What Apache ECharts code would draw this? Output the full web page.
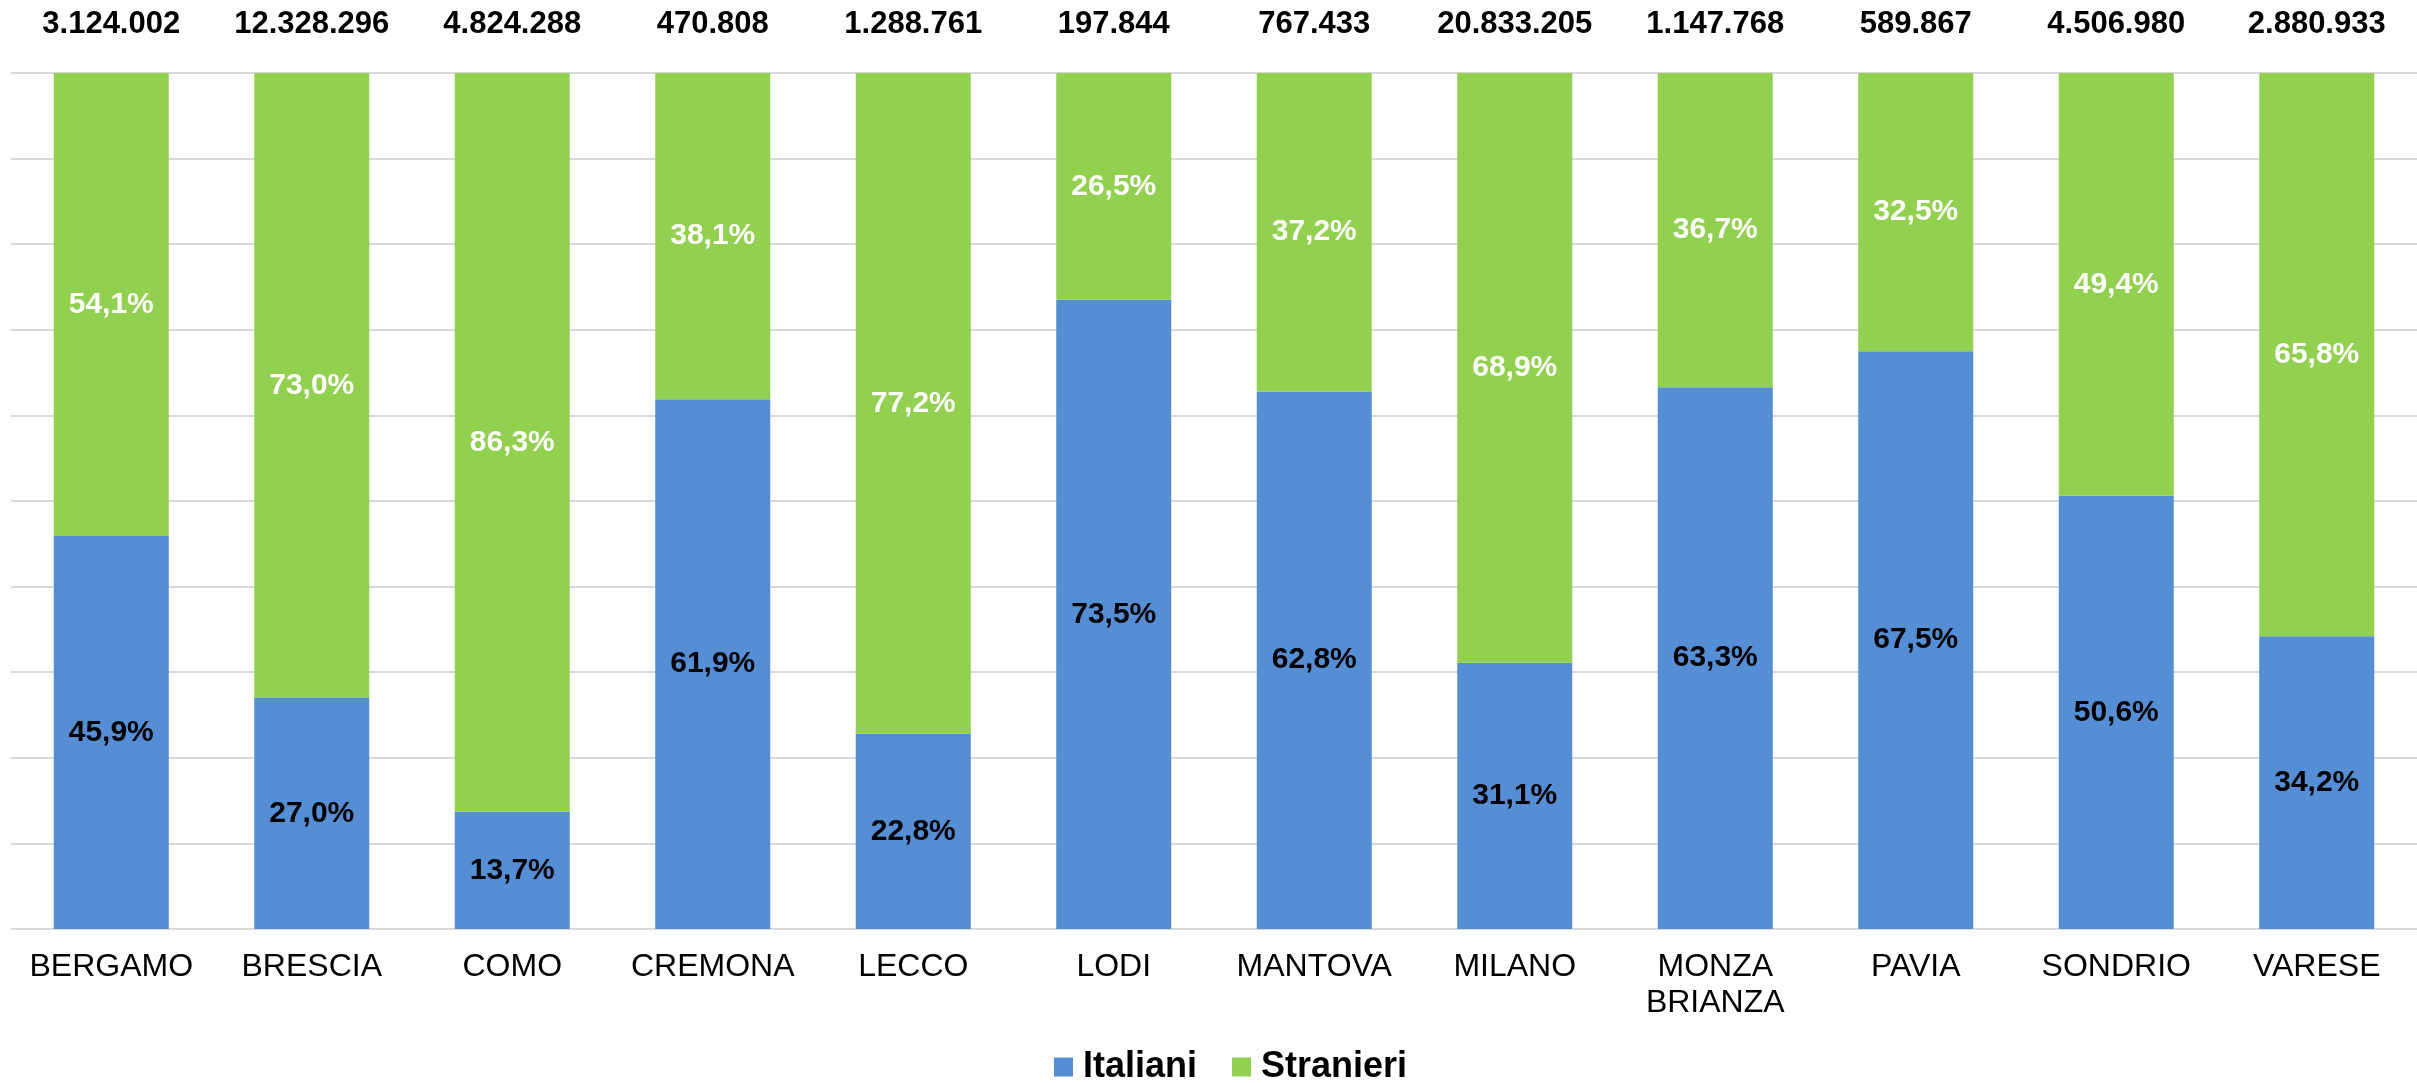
<!DOCTYPE html>
<html>
<head>
<meta charset="utf-8">
<script src="https://cdn.jsdelivr.net/npm/echarts@6/dist/echarts.min.js"></script>
<style>
  html, body { margin: 0; padding: 0; background: #fff; }
  #chart { width: 2417px; height: 1083px; }
</style>
</head>
<body>
<div id="chart"></div>
<script>
const province = ["BERGAMO", "BRESCIA", "COMO", "CREMONA", "LECCO", "LODI",
  "MANTOVA", "MILANO", "MONZA\nBRIANZA", "PAVIA", "SONDRIO", "VARESE"];
const totali = ["3.124.002", "12.328.296", "4.824.288", "470.808", "1.288.761", "197.844",
  "767.433", "20.833.205", "1.147.768", "589.867", "4.506.980", "2.880.933"];
const italiani = [45.9, 27.0, 13.7, 61.9, 22.8, 73.5, 62.8, 31.1, 63.3, 67.5, 50.6, 34.2];
const stranieri = [54.1, 73.0, 86.3, 38.1, 77.2, 26.5, 37.2, 68.9, 36.7, 32.5, 49.4, 65.8];

const FONT = "'Liberation Sans', Arial, sans-serif";
const GRID_COLOR = "#D9D9D9";

function pct(v) {
  return v.toFixed(1).replace(".", ",") + "%";
}

const chart = echarts.init(document.getElementById("chart"));

chart.setOption({
  animation: false,
  textStyle: { fontFamily: FONT },
  grid: { left: 11, top: 73, width: 2423, height: 856, containLabel: false },
  legend: {
    left: 1049,
    top: 1044,
    itemWidth: 19,
    itemHeight: 19,
    itemGap: 35,
    icon: "rect",
    textStyle: {
      fontFamily: FONT,
      fontSize: 36,
      fontWeight: "bold",
      color: "#000",
      padding: [0, 0, 0, 5],
    },
    data: ["Italiani", "Stranieri"],
  },
  xAxis: [
    {
      type: "category",
      data: province,
      axisLine: { lineStyle: { color: GRID_COLOR, width: 2 } },
      axisTick: { length: 10, lineStyle: { color: GRID_COLOR, width: 2 } },
      axisLabel: {
        color: "#000",
        fontSize: 32,
        fontFamily: FONT,
        lineHeight: 36,
        margin: 20,
        interval: 0,
      },
    },
    {
      type: "category",
      position: "top",
      data: totali,
      axisLine: { show: false },
      axisTick: { show: false },
      axisLabel: {
        color: "#000",
        fontSize: 31,
        fontWeight: "bold",
        fontFamily: FONT,
        lineHeight: 36,
        margin: 31,
        interval: 0,
      },
    },
  ],
  yAxis: {
    type: "value",
    min: 0,
    max: 100,
    interval: 10,
    axisLabel: { show: false },
    axisLine: { show: false },
    axisTick: { show: false },
    splitLine: { lineStyle: { color: GRID_COLOR, width: 2 } },
  },
  series: [
    {
      name: "Italiani",
      type: "bar",
      stack: "tot",
      barWidth: 115,
      data: italiani,
      itemStyle: { color: "#558ED5" },
      label: {
        show: true,
        position: "inside",
        color: "#000",
        fontSize: 30,
        fontWeight: "bold",
        fontFamily: FONT,
        formatter: (p) => pct(p.value),
      },
    },
    {
      name: "Stranieri",
      type: "bar",
      stack: "tot",
      barWidth: 115,
      data: stranieri,
      itemStyle: { color: "#92D050" },
      label: {
        show: true,
        position: "inside",
        color: "#fff",
        fontSize: 30,
        fontWeight: "bold",
        fontFamily: FONT,
        formatter: (p) => pct(p.value),
      },
    },
  ],
});
</script>
</body>
</html>
